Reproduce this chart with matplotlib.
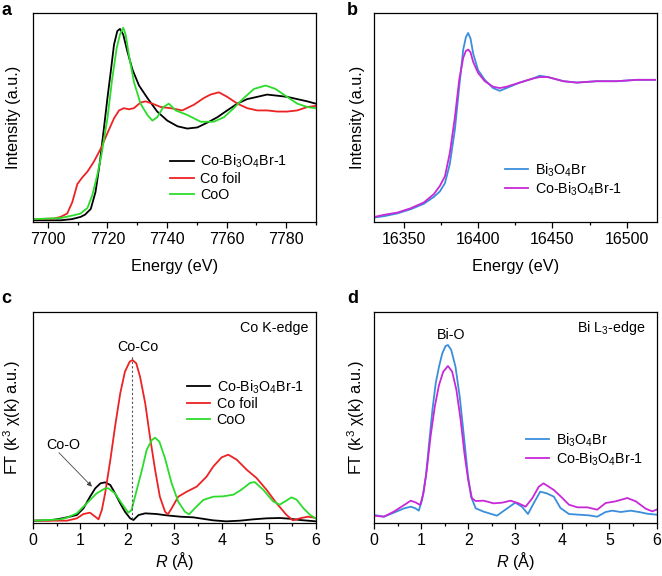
import matplotlib

matplotlib.use("Agg")

import matplotlib.pyplot as plt
from matplotlib.ticker import MultipleLocator

plt.rcParams["font.family"] = ["Liberation Sans", "DejaVu Sans"]
plt.rcParams["mathtext.fontset"] = "custom"
plt.rcParams["mathtext.rm"] = "Liberation Sans"
plt.rcParams["mathtext.it"] = "Liberation Sans:italic"

# ---- panel a: Co K-edge XANES ----
a_black_e = [7695.2, 7704.3, 7708.0, 7711.0, 7712.5, 7714.4, 7716.0, 7717.5, 7718.8, 7720.0, 7721.1,
             7722.2, 7723.3, 7724.2, 7725.3, 7726.7, 7728.4, 7730.6, 7733.4, 7736.7, 7740.1, 7743.5,
             7746.8, 7750.2, 7754.1, 7756.9, 7760.2, 7763.6, 7766.9, 7770.3, 7773.6, 7777.0, 7780.3,
             7783.7, 7787.1, 7789.9]
a_black_y = [0.0, 0.0, 0.01, 0.03, 0.05, 0.10, 0.25, 0.52, 0.81, 1.08, 1.31,
             1.55, 1.67, 1.69, 1.64, 1.49, 1.33, 1.19, 1.08, 0.96, 0.88, 0.83,
             0.81, 0.82, 0.87, 0.91, 0.97, 1.03, 1.07, 1.09, 1.11, 1.10, 1.09,
             1.07, 1.05, 1.03]
a_red_e = [7695.2, 7702.0, 7704.3, 7706.5, 7708.2, 7709.9, 7711.6, 7713.3, 7715.5, 7717.7, 7720.0,
           7722.2, 7723.9, 7725.5, 7727.2, 7728.9, 7731.1, 7732.8, 7735.1, 7737.9, 7741.2, 7745.1,
           7749.0, 7752.4, 7754.6, 7757.4, 7760.2, 7763.6, 7766.9, 7770.3, 7773.6, 7777.0, 7780.3,
           7783.7, 7787.1, 7789.9]
a_red_y = [0.01, 0.015, 0.03, 0.06, 0.16, 0.32, 0.38, 0.43, 0.52, 0.63, 0.77,
           0.90, 0.97, 0.99, 0.98, 0.99, 1.04, 1.05, 1.03, 1.00, 0.99, 0.97,
           1.02, 1.08, 1.11, 1.13, 1.09, 1.03, 0.99, 0.97, 0.97, 0.96, 0.96,
           0.97, 1.00, 1.01]
a_green_e = [7695.2, 7704.3, 7708.8, 7711.0, 7713.3, 7714.9, 7716.6, 7718.0, 7720.0, 7721.6, 7723.1,
             7724.2, 7725.3, 7726.1, 7727.2, 7728.9, 7731.1, 7733.4, 7735.1, 7736.7, 7738.8, 7740.6,
             7742.9, 7746.8, 7751.3, 7755.7, 7759.1, 7762.4, 7765.8, 7769.2, 7773.1, 7776.4, 7780.3,
             7783.7, 7787.1, 7789.9]
a_green_y = [0.01, 0.02, 0.045, 0.06, 0.11, 0.22, 0.40, 0.58, 0.90, 1.25, 1.52,
             1.64, 1.70, 1.64, 1.46, 1.22, 1.03, 0.93, 0.88, 0.91, 1.00, 1.03,
             0.97, 0.93, 0.87, 0.87, 0.91, 0.99, 1.08, 1.16, 1.19, 1.16, 1.09,
             1.03, 1.00, 0.99]

# ---- panel b: Bi L3-edge XANES ----
b_e = [16330, 16336.7, 16345.6, 16354.5, 16363.5, 16370.2, 16374.3, 16377.7, 16381.0, 16384.4,
       16387.3, 16390.0, 16391.8, 16393.3, 16394.9, 16396.7, 16400.0, 16404.5, 16410.1, 16414.6,
       16419.1, 16428.0, 16437.0, 16441.5, 16447.0, 16457.4, 16466.4, 16479.8, 16493.2, 16506.7,
       16519.0]
b_blue_y = [0.02, 0.03, 0.05, 0.08, 0.12, 0.17, 0.21, 0.27, 0.41, 0.66,
            0.97, 1.24, 1.33, 1.36, 1.32, 1.21, 1.09, 1.02, 0.96, 0.94,
            0.96, 1.00, 1.03, 1.05, 1.04, 1.01, 1.00, 1.01, 1.01, 1.02,
            1.02]
b_pink_y = [0.024, 0.04, 0.056, 0.087, 0.13, 0.19, 0.25, 0.32, 0.49, 0.75,
            1.02, 1.18, 1.23, 1.24, 1.22, 1.15, 1.07, 1.01, 0.97, 0.96,
            0.97, 1.00, 1.03, 1.04, 1.04, 1.01, 1.00, 1.01, 1.01, 1.02,
            1.02]

# ---- panel c: Co K-edge FT-EXAFS ----
c_black_r = [0.0, 0.37, 0.58, 0.72, 0.93, 1.07, 1.21, 1.32, 1.43, 1.53, 1.64, 1.74, 1.85, 1.95,
             2.06, 2.13, 2.24, 2.38, 2.62, 2.83, 3.12, 3.40, 3.82, 4.10, 4.39, 4.67, 4.95, 5.23,
             5.44, 5.66, 6.0]
c_black_y = [0.04, 0.06, 0.16, 0.24, 0.38, 0.78, 1.48, 1.98, 2.28, 2.34, 2.18, 1.68, 1.08, 0.58,
             0.18, 0.08, 0.38, 0.48, 0.44, 0.36, 0.28, 0.24, 0.06, 0.0, 0.04, 0.12, 0.18, 0.20,
             0.16, 0.08, 0.0]
c_red_r = [0.0, 0.72, 0.93, 1.07, 1.21, 1.32, 1.39, 1.46, 1.53, 1.64, 1.74, 1.85, 1.95, 2.05, 2.11,
           2.19, 2.27, 2.38, 2.48, 2.59, 2.69, 2.80, 2.86, 2.94, 3.08, 3.26, 3.47, 3.68, 3.82,
           4.00, 4.14, 4.32, 4.53, 4.74, 4.95, 5.16, 5.37, 5.51, 5.69, 5.83, 6.0]
c_red_y = [0.04, 0.04, 0.18, 0.44, 0.52, 0.28, 0.12, 0.68, 1.68, 3.68, 5.68, 7.68, 8.98, 9.58, 9.68,
           9.48, 8.68, 7.08, 5.08, 3.08, 1.48, 0.58, 0.42, 0.78, 1.48, 1.78, 2.08, 2.68, 3.28,
           3.84, 4.00, 3.70, 3.10, 2.60, 1.90, 1.10, 0.40, 0.06, 0.20, 0.28, 0.20]
c_green_r = [0.0, 0.58, 0.72, 0.93, 1.14, 1.35, 1.53, 1.60, 1.74, 1.88, 2.02, 2.09, 2.20, 2.31, 2.41,
             2.52, 2.59, 2.68, 2.80, 2.94, 3.08, 3.22, 3.31, 3.43, 3.61, 3.82, 4.03, 4.25, 4.42,
             4.60, 4.70, 4.88, 5.09, 5.23, 5.37, 5.48, 5.59, 5.73, 5.87, 6.0]
c_green_y = [0.04, 0.12, 0.22, 0.48, 1.08, 1.68, 1.98, 1.98, 1.68, 1.08, 0.52, 0.68, 1.88, 3.08, 4.28,
             4.88, 5.02, 4.78, 3.78, 2.28, 1.18, 0.58, 0.42, 0.78, 1.28, 1.48, 1.50, 1.60, 1.90,
             2.30, 2.36, 1.90, 1.20, 1.00, 1.24, 1.44, 1.30, 0.80, 0.40, 0.16]

# ---- panel d: Bi L3-edge FT-EXAFS ----
d_blue_r = [0.0, 0.21, 0.42, 0.64, 0.78, 0.88, 0.95, 1.02, 1.10, 1.17, 1.24, 1.31, 1.38, 1.45, 1.52,
            1.57, 1.64, 1.73, 1.82, 1.91, 1.99, 2.06, 2.16, 2.33, 2.61, 2.83, 3.00, 3.14, 3.27,
            3.39, 3.53, 3.67, 3.82, 3.96, 4.14, 4.35, 4.56, 4.74, 4.92, 5.06, 5.24, 5.45, 5.63,
            5.80, 6.0]
d_blue_y = [0.38, 0.28, 0.52, 0.78, 0.88, 0.78, 0.64, 1.28, 2.68, 4.68, 6.68, 8.28, 9.28, 10.08, 10.52,
            10.58, 10.28, 9.28, 7.48, 5.08, 2.88, 1.48, 0.78, 0.58, 0.34, 0.78, 1.12, 0.88, 0.44,
            1.08, 1.78, 1.68, 1.48, 0.80, 0.44, 0.40, 0.36, 0.28, 0.56, 0.64, 0.56, 0.64, 0.56,
            0.46, 0.40]
d_pink_r = [0.0, 0.21, 0.42, 0.64, 0.78, 0.88, 0.98, 1.05, 1.12, 1.20, 1.29, 1.38, 1.47, 1.57, 1.66,
            1.75, 1.84, 1.92, 2.00, 2.08, 2.16, 2.33, 2.54, 2.72, 2.90, 3.07, 3.22, 3.36, 3.50,
            3.60, 3.82, 4.00, 4.14, 4.32, 4.53, 4.74, 4.92, 5.13, 5.38, 5.56, 5.77, 5.91, 6.0]
d_pink_y = [0.34, 0.28, 0.58, 0.98, 1.24, 1.14, 0.98, 1.68, 3.08, 5.08, 6.88, 8.18, 8.98, 9.32, 8.98,
            7.88, 6.08, 4.08, 2.48, 1.38, 1.22, 1.24, 1.08, 1.12, 1.24, 1.08, 0.88, 1.38, 2.08,
            2.28, 1.88, 1.40, 1.00, 0.84, 0.84, 0.70, 1.10, 1.20, 1.40, 1.20, 0.76, 0.60, 0.70]

RED = "#ec2224"
GREEN = "#2bdc2b"
BLUE = "#3a8edb"
PINK = "#c828d8"
LW = 1.3
TICK_FS = 11.5
LABEL_FS = 11.7
SMALL_FS = 10.3

label_co = "Co-Bi$_3$O$_4$Br-1"
label_bi = "Bi$_3$O$_4$Br"
ft_label = "FT (k$^3$ χ(k) a.u.)"
r_label = "$R$ (Å)"

fig = plt.figure(figsize=(6.62, 5.76), dpi=100)
ax_a = fig.add_axes([0.0498, 0.6146, 0.4275, 0.3628])
ax_b = fig.add_axes([0.565, 0.6146, 0.4267, 0.3628])
ax_c = fig.add_axes([0.0498, 0.092, 0.4275, 0.3663])
ax_d = fig.add_axes([0.565, 0.092, 0.4267, 0.3663])


def style_axis(ax, xlabel, ylabel, xlab_y, ylab_x):
    ax.tick_params(axis="x", which="major", direction="out", length=4, width=0.9, pad=3,
                   labelsize=TICK_FS)
    ax.tick_params(axis="x", which="minor", direction="out", length=2.2, width=0.9)
    ax.tick_params(axis="y", left=False, labelleft=False)
    for s in ax.spines.values():
        s.set_linewidth(0.9)
    ax.set_xlabel(xlabel, fontsize=LABEL_FS, va="center")
    ax.set_ylabel(ylabel, fontsize=LABEL_FS, va="center")
    ax.xaxis.set_label_coords(0.5, xlab_y)
    ax.yaxis.set_label_coords(ylab_x, 0.5)


def add_legend(ax, anchor):
    ax.legend(loc="center left", bbox_to_anchor=anchor, frameon=False, fontsize=SMALL_FS,
              handlelength=1.65, handletextpad=0.45, labelspacing=0.12, borderpad=0,
              borderaxespad=0)


# a
ax_a.plot(a_black_e, a_black_y, color="black", lw=LW, label=label_co)
ax_a.plot(a_red_e, a_red_y, color=RED, lw=LW, label="Co foil")
ax_a.plot(a_green_e, a_green_y, color=GREEN, lw=LW, label="CoO")
ax_a.set_xlim(7695, 7790)
ax_a.set_ylim(-0.015, 1.83)
ax_a.xaxis.set_major_locator(MultipleLocator(20))
ax_a.xaxis.set_minor_locator(MultipleLocator(10))
style_axis(ax_a, "Energy (eV)", "Intensity (a.u.)", -0.215, -0.068)
add_legend(ax_a, (0.485, 0.213))

# b
ax_b.plot(b_e, b_blue_y, color=BLUE, lw=LW, label=label_bi)
ax_b.plot(b_e, b_pink_y, color=PINK, lw=LW, label=label_co)
ax_b.set_xlim(16330, 16520)
ax_b.set_ylim(-0.012, 1.505)
ax_b.xaxis.set_major_locator(MultipleLocator(50))
ax_b.xaxis.set_minor_locator(MultipleLocator(25))
style_axis(ax_b, "Energy (eV)", "Intensity (a.u.)", -0.215, -0.058)
add_legend(ax_b, (0.463, 0.203))

# c
ax_c.plot(c_black_r, c_black_y, color="black", lw=LW, label=label_co)
ax_c.plot(c_red_r, c_red_y, color=RED, lw=LW, label="Co foil")
ax_c.plot(c_green_r, c_green_y, color=GREEN, lw=LW, label="CoO")
ax_c.plot([2.11, 2.11], [0.15, 9.9], color="#555555", lw=0.8, ls=(0, (2, 2)))
ax_c.text(2.22, 10.44, "Co-Co", ha="center", va="center", fontsize=SMALL_FS)
ax_c.text(0.65, 4.6, "Co-O", ha="center", va="center", fontsize=SMALL_FS)
ax_c.annotate("", xy=(1.25, 2.08), xytext=(0.55, 4.12),
              arrowprops=dict(arrowstyle="-|>", color="#444444", lw=0.6, shrinkA=0, shrinkB=0,
                              mutation_scale=7))
ax_c.text(0.973, 0.924, "Co K-edge", transform=ax_c.transAxes, ha="right", va="center",
          fontsize=SMALL_FS)
ax_c.set_xlim(0, 6)
ax_c.set_ylim(-0.1, 12.56)
ax_c.xaxis.set_major_locator(MultipleLocator(1))
ax_c.xaxis.set_minor_locator(MultipleLocator(0.5))
style_axis(ax_c, r_label, ft_label, -0.18, -0.073)
add_legend(ax_c, (0.543, 0.57))

# d
ax_d.plot(d_blue_r, d_blue_y, color=BLUE, lw=LW, label=label_bi)
ax_d.plot(d_pink_r, d_pink_y, color=PINK, lw=LW, label=label_co)
ax_d.text(1.63, 11.18, "Bi-O", ha="center", va="center", fontsize=SMALL_FS)
ax_d.text(0.961, 0.924, "Bi L$_3$-edge", transform=ax_d.transAxes, ha="right", va="center",
          fontsize=SMALL_FS)
ax_d.set_xlim(0, 6)
ax_d.set_ylim(-0.1, 12.56)
ax_d.xaxis.set_major_locator(MultipleLocator(1))
ax_d.xaxis.set_minor_locator(MultipleLocator(0.5))
style_axis(ax_d, r_label, ft_label, -0.18, -0.064)
add_legend(ax_d, (0.537, 0.348))

# panel letters
for x, y, s in [(0.002, 0.997, "a"), (0.524, 0.997, "b"), (0.002, 0.497, "c"), (0.524, 0.497, "d")]:
    fig.text(x, y, s, fontsize=13, fontweight="bold", ha="left", va="top")

fig.savefig("out.png", dpi=100)
plt.close(fig)
